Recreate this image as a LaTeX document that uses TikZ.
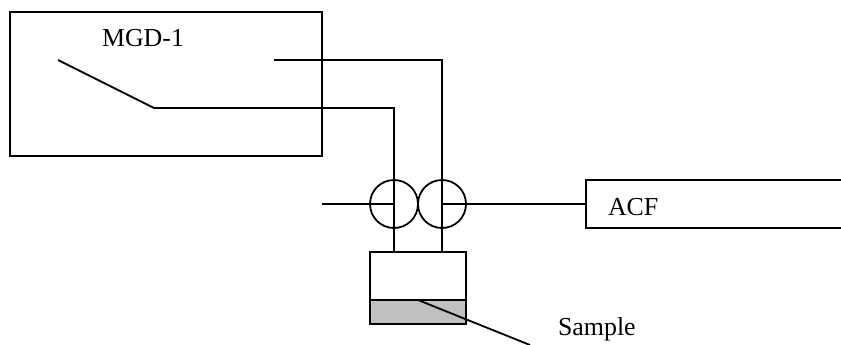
\documentclass[tikz,border=0pt]{standalone}
\usepackage{fontspec}
\setmainfont{Liberation Serif}
\begin{document}
\begin{tikzpicture}[x=1bp,y=-1bp,line width=1.8bp,
  boxstyle/.style={draw=black,rectangle,inner sep=0pt,outer sep=0pt,minimum width=#1},
  ringstyle/.style={draw=black,circle,inner sep=0pt,outer sep=0pt,minimum size=48bp},
  labelstyle/.style={anchor=base west,inner sep=0pt,outer sep=0pt,font=\fontsize{26}{30}\selectfont},
  wire/.style={draw=black,line join=miter}]
\useasboundingbox (0,0) rectangle (841,344);
% boxes
\node[boxstyle=312bp,minimum height=144bp,anchor=north west] (mgd) at (10,12) {};
\node[boxstyle=96bp,minimum height=48bp,anchor=north west] (cell) at (370,252) {};
\node[boxstyle=96bp,minimum height=24bp,anchor=north west,fill={rgb,255:red,192;green,192;blue,192}] (sample) at (370,300) {};
\node[ringstyle] (ringA) at (394,204) {};
\node[ringstyle] (ringB) at (442,204) {};
% ACF box, open on the right
\coordinate (acfNW) at (842,180);
\coordinate (acfTL) at (586,180);
\coordinate (acfBL) at (586,228);
\coordinate (acfSE) at (842,228);
\draw[wire] (acfNW) -- (acfTL) -- (acfBL) -- (acfSE);
% labels
\node[labelstyle] (lmgd) at (102,46) {MGD-1};
\node[labelstyle] (lacf) at (608,215) {ACF};
\node[labelstyle] (lsample) at (558,335) {Sample};
% switch and wires
\coordinate (swA) at (58,60);
\coordinate (swB) at (154,108);
\coordinate (swC) at (274,60);
\draw[wire] (swA) -- (swB) -| (ringA.center) -- (cell.north -| ringA);
\draw[wire] (swC) -| (ringB.center) -- (cell.north -| ringB);
\coordinate (inlet) at (322,204);
\coordinate (acfIn) at (586,204);
\draw[wire] (inlet) -- (ringA.center);
\draw[wire] (ringB.center) -- (acfIn);
\coordinate (sampleEnd) at (530,345);
\draw[wire] (sample.north) -- (sampleEnd);
\end{tikzpicture}
\end{document}
